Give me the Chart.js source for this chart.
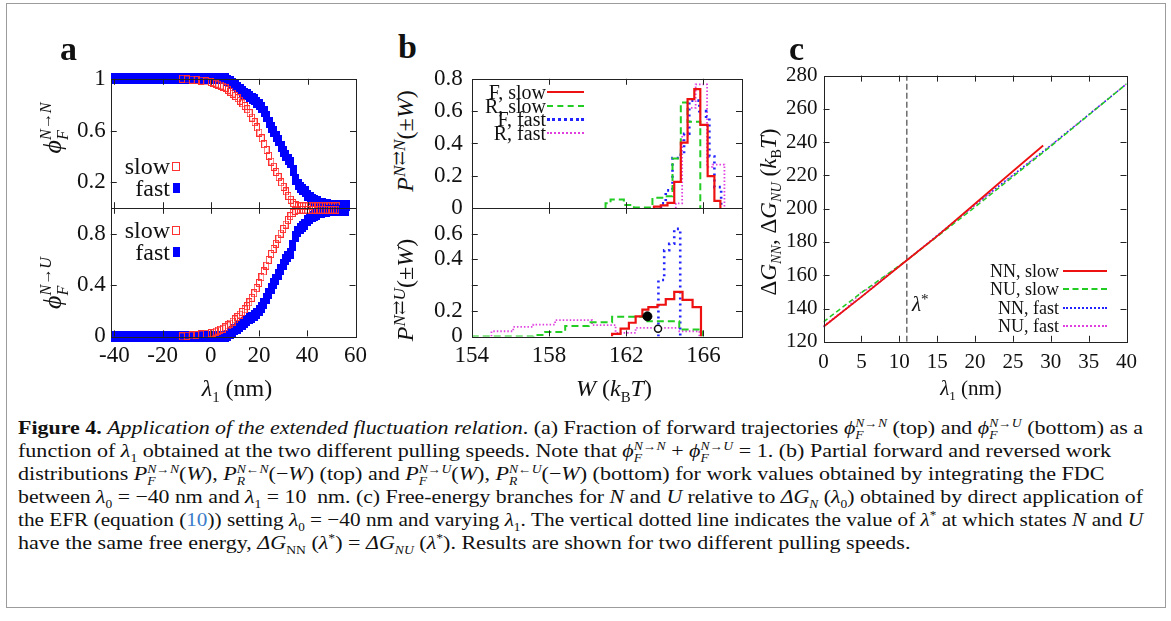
<!DOCTYPE html>
<html>
<head>
<meta charset="utf-8">
<script src="https://cdn.jsdelivr.net/npm/chart.js@4.4.1/dist/chart.umd.min.js"></script>
<style>
body { margin: 0; background: #fff; }
#fig { position: relative; width: 1171px; height: 621px; overflow: hidden; background: #fff;
  font-family: "Liberation Serif", "DejaVu Serif", serif; color: #111; }
#frame { position: absolute; left: 6px; top: 3px; width: 1160px; height: 605px;
  border: 1.5px solid #9c9c9c; box-sizing: border-box; }
canvas { position: absolute; }
.t { position: absolute; white-space: nowrap; line-height: 1; }
.tc { transform: translate(-50%, -50%); }
.tr { transform: translate(-100%, -50%); }
.tl { transform: translate(0, -50%); }
.rot { transform: translate(-50%, -50%) rotate(-90deg); }
.t sub, .cl sub, .cl sup { font-size: 0.62em; line-height: 0; }
.t sup { font-size: 0.72em; line-height: 0; vertical-align: 0.45em; }
.ss { display: inline-block; vertical-align: -0.45em; line-height: 1.05; font-size: 0.62em; text-align: left; }
.ss > span { display: block; }
.letter { font-weight: bold; font-size: 34px; }
.cl { position: absolute; left: 18px; white-space: nowrap; font-size: 19px; line-height: 20px; transform-origin: 0 50%; }
.key { position: absolute; height: 0; }
</style>
</head>
<body>
<div id="fig">
  <div id="frame"></div>

  <canvas id="aTop"></canvas>
  <canvas id="aBot"></canvas>
  <canvas id="bTop"></canvas>
  <canvas id="bBot"></canvas>
  <canvas id="cMain"></canvas>

  <div class="t letter" style="left:60px;top:32px;">a</div>
  <div class="t letter" style="left:398px;top:30px;">b</div>
  <div class="t letter" style="left:789px;top:32px;">c</div>

  <!-- panel a labels -->
  <div class="t rot" style="left:55px;top:128px;font-size:26px;"><i>ϕ</i><span class="ss"><span><i>N</i>→<i>N</i></span><span><i>F</i></span></span></div>
  <div class="t rot" style="left:55px;top:283px;font-size:26px;"><i>ϕ</i><span class="ss"><span><i>N</i>→<i>U</i></span><span><i>F</i></span></span></div>
  <div class="t tc" style="left:237px;top:388px;font-size:24px;"><i>λ</i><sub>1</sub> (nm)</div>
  <div class="t tr" style="left:170px;top:166px;font-size:24px;">slow</div>
  <div class="t tr" style="left:170px;top:188px;font-size:24px;">fast</div>
  <div class="t tr" style="left:170px;top:230px;font-size:24px;">slow</div>
  <div class="t tr" style="left:170px;top:252px;font-size:24px;">fast</div>
  <div class="key" style="left:172px;top:162px;width:6px;height:7px;border:1px solid #ff3030;"></div>
  <div class="key" style="left:173px;top:183px;width:7px;height:10px;background:#0000ff;"></div>
  <div class="key" style="left:172px;top:226px;width:6px;height:7px;border:1px solid #ff3030;"></div>
  <div class="key" style="left:173px;top:247px;width:7px;height:10px;background:#0000ff;"></div>

  <!-- panel b labels -->
  <div class="t rot" style="left:405px;top:141px;font-size:24px;"><i>P</i><sup><i>N</i>⇄<i>N</i></sup>(±<i>W</i>)</div>
  <div class="t rot" style="left:405px;top:290px;font-size:24px;"><i>P</i><sup><i>N</i>⇄<i>U</i></sup>(±<i>W</i>)</div>
  <div class="t tc" style="left:614px;top:388px;font-size:24px;"><i>W</i> (<i>k</i><sub>B</sub><i>T</i>)</div>
  <div class="t tr" style="left:546px;top:92px;font-size:20px;">F, slow</div>
  <div class="t tr" style="left:546px;top:106px;font-size:20px;">R, slow</div>
  <div class="t tr" style="left:546px;top:119px;font-size:20px;">F, fast</div>
  <div class="t tr" style="left:546px;top:133px;font-size:20px;">R, fast</div>
  <div class="key" style="left:547px;top:91px;width:37px;border-top:2px solid #ee1111;"></div>
  <div class="key" style="left:547px;top:105px;width:37px;border-top:2px dashed #22cc22;"></div>
  <div class="key" style="left:547px;top:118px;width:37px;border-top:3px dotted #2222ff;"></div>
  <div class="key" style="left:547px;top:132px;width:37px;border-top:2px dotted #e040e0;"></div>

  <!-- panel c labels -->
  <div class="t rot" style="left:768px;top:212px;font-size:23px;">Δ<i>G</i><sub><i>NN</i></sub>, Δ<i>G</i><sub><i>NU</i></sub> (<i>k</i><sub>B</sub><i>T</i>)</div>
  <div class="t tc" style="left:971px;top:388px;font-size:21px;"><i>λ</i><sub>1</sub> (nm)</div>
  <div class="t tl" style="left:912px;top:304px;font-size:21px;"><i>λ</i><sup>*</sup></div>
  <div class="t tr" style="left:1059px;top:271px;font-size:18px;">NN, slow</div>
  <div class="t tr" style="left:1059px;top:289px;font-size:18px;">NU, slow</div>
  <div class="t tr" style="left:1059px;top:308px;font-size:18px;">NN, fast</div>
  <div class="t tr" style="left:1059px;top:326px;font-size:18px;">NU, fast</div>
  <div class="key" style="left:1063px;top:270px;width:44px;border-top:2px solid #ee1111;"></div>
  <div class="key" style="left:1063px;top:288px;width:44px;border-top:2px dashed #22cc22;"></div>
  <div class="key" style="left:1063px;top:307px;width:44px;border-top:2px dotted #2222ff;"></div>
  <div class="key" style="left:1063px;top:325px;width:44px;border-top:2px dotted #e040e0;"></div>

  <!-- caption -->
  <div class="cl" id="cap1" style="top:418px;"><b>Figure 4.</b> <i>Application of the extended fluctuation relation</i>. (a) Fraction of forward trajectories <i>ϕ</i><span class="ss"><span><i>N</i>→<i>N</i></span><span><i>F</i></span></span> (top) and <i>ϕ</i><span class="ss"><span><i>N</i>→<i>U</i></span><span><i>F</i></span></span> (bottom) as a</div>
  <div class="cl" style="top:441px;">function of <i>λ</i><sub>1</sub> obtained at the two different pulling speeds. Note that <i>ϕ</i><span class="ss"><span><i>N</i>→<i>N</i></span><span><i>F</i></span></span> + <i>ϕ</i><span class="ss"><span><i>N</i>→<i>U</i></span><span><i>F</i></span></span> = 1. (b) Partial forward and reversed work</div>
  <div class="cl" style="top:464px;">distributions <i>P</i><span class="ss"><span><i>N</i>→<i>N</i></span><span><i>F</i></span></span>(<i>W</i>), <i>P</i><span class="ss"><span><i>N</i>←<i>N</i></span><span><i>R</i></span></span>(−<i>W</i>) (top) and <i>P</i><span class="ss"><span><i>N</i>→<i>U</i></span><span><i>F</i></span></span>(<i>W</i>), <i>P</i><span class="ss"><span><i>N</i>←<i>U</i></span><span><i>R</i></span></span>(−<i>W</i>) (bottom) for work values obtained by integrating the FDC</div>
  <div class="cl" style="top:487px;">between <i>λ</i><sub>0</sub> = −40 nm and <i>λ</i><sub>1</sub> = 10&nbsp; nm. (c) Free-energy branches for <i>N</i> and <i>U</i> relative to <i>ΔG<sub>N</sub></i> (<i>λ</i><sub>0</sub>) obtained by direct application of</div>
  <div class="cl" style="top:510px;">the EFR (equation (<span style="color:#3d7cc9">10</span>)) setting <i>λ</i><sub>0</sub> = −40 nm and varying <i>λ</i><sub>1</sub>. The vertical dotted line indicates the value of <i>λ</i><sup>*</sup> at which states <i>N</i> and <i>U</i></div>
  <div class="cl" style="top:533px;">have the same free energy, <i>ΔG</i><sub>NN</sub> (<i>λ</i><sup>*</sup>) = <i>ΔG<sub>NU</sub></i> (<i>λ</i><sup>*</sup>). Results are shown for two different pulling speeds.</div>
</div>

<script>
// ---------- panel a: fraction of forward trajectories ----------
const lamFast = [-40, -38, -36, -34, -32, -30, -28, -26, -24, -22, -20, -18, -16, -14, -12, -10, -8, -6, -4, -2, 0, 2, 4, 6,
  7, 8, 9, 10, 11, 12, 13, 14, 15, 16, 17, 18, 19, 20, 21, 22, 23, 24, 25, 26, 27, 28, 29, 30, 31,
  32, 33, 34, 35, 36, 37, 38, 39, 40, 41, 42, 43, 44, 45, 46, 47, 48, 49, 50, 51, 52, 53, 54, 55, 56];
const phiNNfast = [1, 1, 1, 1, 1, 1, 1, 1, 1, 1, 1, 1, 1, 1, 1, 1, 1, 1, 1, 1, 1, 1, 1, 1,
  0.99, 0.98, 0.965, 0.95, 0.935, 0.92, 0.905, 0.89, 0.875, 0.862, 0.85, 0.837, 0.82, 0.8, 0.775, 0.745, 0.705, 0.665, 0.625, 0.59, 0.555, 0.52, 0.48, 0.44, 0.405,
  0.38, 0.355, 0.29, 0.225, 0.185, 0.16, 0.145, 0.13, 0.1, 0.08, 0.07, 0.06, 0.05, 0.04, 0.035, 0.03, 0.025, 0.02, 0.02, 0.02, 0.02, 0.02, 0.02, 0.02, 0.02];
const phiNUfast = [0, 0, 0, 0, 0, 0, 0, 0, 0, 0, 0, 0, 0, 0, 0, 0, 0, 0, 0, 0, 0, 0, 0, 0,
  0.01, 0.02, 0.035, 0.05, 0.065, 0.08, 0.095, 0.11, 0.125, 0.138, 0.15, 0.163, 0.18, 0.2, 0.225, 0.255, 0.295, 0.335, 0.375, 0.41, 0.445, 0.48, 0.52, 0.56, 0.595,
  0.62, 0.645, 0.71, 0.775, 0.815, 0.84, 0.855, 0.87, 0.9, 0.92, 0.93, 0.94, 0.95, 0.96, 0.965, 0.97, 0.975, 0.98, 0.98, 0.98, 0.98, 0.98, 0.98, 0.98, 0.98];

const lamSlow = [-12, -10, -8, -6, -4, -2, 0, 1, 2, 3, 4, 5, 6, 7, 8, 9, 10, 11, 12, 13, 14, 15, 16, 17, 18, 19, 20,
  21, 22, 23, 24, 25, 26, 27, 28, 29, 30, 31, 32, 33, 34, 35, 36, 37, 38, 39, 40, 41, 42, 43, 44, 45, 46, 47, 48, 49, 50, 51, 52];
const phiNNslow = [1, 0.995, 0.993, 0.99, 0.985, 0.98, 0.975, 0.97, 0.962, 0.955, 0.948, 0.94, 0.93, 0.915, 0.9, 0.885, 0.868, 0.85, 0.83, 0.81, 0.79, 0.765, 0.735, 0.7, 0.665, 0.625, 0.585,
  0.54, 0.495, 0.45, 0.405, 0.36, 0.32, 0.28, 0.24, 0.2, 0.165, 0.13, 0.095, 0.065, 0.04, 0.025, 0.015, 0.015, 0.015, 0.015, 0.015, 0.015, 0.015, 0.015, 0.015, 0.015, 0.015, 0.015, 0.015, 0.015, 0.015, 0.015, 0.015];
const phiNUslow = [0, 0.005, 0.007, 0.01, 0.015, 0.02, 0.025, 0.03, 0.038, 0.045, 0.052, 0.06, 0.07, 0.085, 0.1, 0.115, 0.132, 0.15, 0.17, 0.19, 0.21, 0.235, 0.265, 0.3, 0.335, 0.375, 0.415,
  0.46, 0.505, 0.55, 0.595, 0.64, 0.68, 0.72, 0.76, 0.8, 0.835, 0.87, 0.905, 0.935, 0.96, 0.975, 0.985, 0.985, 0.985, 0.985, 0.985, 0.985, 0.985, 0.985, 0.985, 0.985, 0.985, 0.985, 0.985, 0.985, 0.985, 0.985, 0.985];

const aXTicks = [-40, -20, 0, 20, 40, 60];
const aXLabels = ['-40', '-20', '0', '20', '40', '60'];
const aTopYTicks = [0.2, 0.6, 1];
const aTopYLabels = ['0.2', '0.6', '1'];
const aBotYTicks = [0, 0.4, 0.8];
const aBotYLabels = ['0', '0.4', '0.8'];

// ---------- panel b: partial work distributions (bin edges / heights) ----------
const wFslowTop = [163.44, 163.79, 164.14, 164.49, 164.83, 165.18, 165.53, 165.84, 166.22, 166.57, 166.88];
const pFslowTop = [0.01, 0.018, 0.033, 0.163, 0.405, 0.674, 0.736, 0.515, 0.198, 0.045, 0];
const wRslowTop = [160.93, 161.19, 161.88, 162.4, 163.36, 163.97, 164.4, 164.83, 165.18, 165.84];
const pRslowTop = [0.03, 0.054, 0.02, 0.005, 0.064, 0.074, 0.308, 0.653, 0.535, 0];
const wFfastTop = [163.8, 164.05, 164.4, 164.75, 165.0, 165.27, 165.53, 165.79, 166.14, 166.31, 166.57, 166.92];
const pFfastTop = [0.03, 0.11, 0.31, 0.33, 0.46, 0.665, 0.665, 0.6, 0.566, 0.32, 0.13, 0];
const wRfastTop = [164.57, 164.9, 165.2, 165.6, 166.19, 166.48, 167.09];
const pRfastTop = [0.03, 0.45, 0.62, 0.765, 0.256, 0.27, 0];

const wFslowBot = [161.27, 161.71, 162.14, 162.49, 162.84, 163.15, 163.62, 164.05, 164.49, 164.92, 165.44, 165.875];
const pFslowBot = [0.01, 0.03, 0.053, 0.078, 0.104, 0.114, 0.123, 0.145, 0.173, 0.142, 0.114, 0];
const wRslowBot = [154.0, 157.19, 157.8, 158.84, 160.06, 161.27, 163.1, 164.75, 165.96];
const pRslowBot = [0, 0.005, 0.017, 0.04, 0.055, 0.076, 0.059, 0.027, 0];
const wFfastBot = [163.67, 163.97, 164.23, 164.49, 164.8];
const pFfastBot = [0.219, 0.335, 0.36, 0.418, 0];
const wRfastBot = [155.02, 156.15, 157.19, 158.32, 160.23, 161.45, 162.49, 164.75, 165.79];
const pRfastBot = [0.02, 0.037, 0.046, 0.063, 0.044, 0.014, 0.033, 0.02, 0];
const crossFilled = [{ x: 163.1, y: 0.078 }];
const crossOpen = [{ x: 163.65, y: 0.03 }];

const bXTicks = [154, 158, 162, 166];
const bXLabels = ['154', '158', '162', '166'];
const bTopYTicks = [0, 0.2, 0.4, 0.6, 0.8];
const bTopYLabels = ['0', '0.2', '0.4', '0.6', '0.8'];
const bBotYTicks = [0, 0.1, 0.2, 0.3, 0.4];
const bBotYLabels = ['0', '0.2', '', '0.4', '0.6'];

// ---------- panel c: free-energy branches ----------
const lamNNslow = [0, 5, 11, 15, 20, 25, 29];
const gNNslow = [129, 147, 169, 183.5, 203, 222.5, 238];
const lamNUslow = [0, 5, 11, 20, 30, 40];
const gNUslow = [132, 149.5, 169, 201, 237.5, 275];
const lamNNfast = [0, 5, 11, 20, 30, 40];
const gNNfast = [129, 147, 169, 202.5, 238, 275];
const lamNUfast = [0, 3, 4, 5, 6, 8, 11, 20, 30, 40];
const gNUfast = [129.5, 140, 145, 150, 152, 159, 169, 202, 238, 275];
const lambdaStar = 11;

const cXTicks = [0, 5, 10, 15, 20, 25, 30, 35, 40];
const cXLabels = ['0', '5', '10', '15', '20', '25', '30', '35', '40'];
const cYTicks = [120, 140, 160, 180, 200, 220, 240, 260, 280];
const cYLabels = ['120', '140', '160', '180', '200', '220', '240', '260', '280'];

const RED = '#ee1111', GREEN = '#22cc22', BLUE = '#2222ff', MAGENTA = '#e040e0';
const SERIF = '"Liberation Serif", "DejaVu Serif", serif';
Chart.defaults.font.family = SERIF;
Chart.defaults.color = '#111';

const xy = (xs, ys) => xs.map((x, i) => ({ x, y: ys[i] }));
const steps = (edges, vals) => [{ x: edges[0], y: 0 }].concat(xy(edges, vals));

function marker(w, h, filled, color) {
  const c = document.createElement('canvas');
  c.width = w; c.height = h;
  const g = c.getContext('2d');
  if (filled) { g.fillStyle = color; g.fillRect(0, 0, w, h); }
  else { g.strokeStyle = color; g.lineWidth = 1; g.strokeRect(0.5, 0.5, w - 1, h - 1); }
  return c;
}
const blueSq = marker(7, 11, true, '#0000ff');
const redSq = marker(6, 8, false, '#ff3030');

// frame + inward ticks on all four sides, like the gnuplot original
const boxTicks = {
  id: 'boxTicks',
  afterDraw(chart) {
    const { ctx, chartArea: a, scales } = chart;
    const L = 6;
    ctx.save();
    ctx.strokeStyle = '#222';
    ctx.lineWidth = 1;
    ctx.beginPath();
    scales.x.ticks.forEach(t => {
      const p = Math.round(scales.x.getPixelForValue(t.value)) + 0.5;
      if (p < a.left + 2 || p > a.right - 2) return;
      ctx.moveTo(p, a.top); ctx.lineTo(p, a.top + L);
      ctx.moveTo(p, a.bottom); ctx.lineTo(p, a.bottom - L);
    });
    scales.y.ticks.forEach(t => {
      const p = Math.round(scales.y.getPixelForValue(t.value)) + 0.5;
      if (p < a.top + 2 || p > a.bottom - 2) return;
      ctx.moveTo(a.left, p); ctx.lineTo(a.left + L, p);
      ctx.moveTo(a.right, p); ctx.lineTo(a.right - L, p);
    });
    ctx.stroke();
    ctx.strokeRect(Math.round(a.left) + 0.5, Math.round(a.top) + 0.5,
      Math.round(a.right - a.left), Math.round(a.bottom - a.top));
    ctx.restore();
  }
};

function axis(min, max, ticks, labels, show, size, pad) {
  return {
    type: 'linear', min, max,
    grid: { display: false, drawTicks: false },
    border: { display: false },
    afterBuildTicks: s => { s.ticks = ticks.map(v => ({ value: v })); },
    ticks: {
      display: show, padding: pad, autoSkip: false, maxRotation: 0,
      font: { size, family: SERIF }, color: '#111',
      callback: v => labels[ticks.indexOf(v)]
    }
  };
}

function options(x, y) {
  return {
    responsive: false, animation: false, maintainAspectRatio: false,
    layout: { padding: { top: 10, right: 16, bottom: 10, left: 4 } },
    plugins: { legend: { display: false }, tooltip: { enabled: false } },
    scales: { x, y }
  };
}

// build once to measure the margins, then rebuild so the plot box lands exactly where wanted
function place(id, box, makeConfig) {
  const cv = document.getElementById(id);
  cv.width = box.w + 140; cv.height = box.h + 90;
  let ch = new Chart(cv, makeConfig());
  const a = ch.chartArea;
  const ml = a.left, mt = a.top, mr = cv.width - a.right, mb = cv.height - a.bottom;
  ch.destroy();
  cv.width = Math.round(box.w + ml + mr);
  cv.height = Math.round(box.h + mt + mb);
  cv.style.width = cv.width + 'px';
  cv.style.height = cv.height + 'px';
  ch = new Chart(cv, makeConfig());
  cv.style.left = (box.x - ch.chartArea.left) + 'px';
  cv.style.top = (box.y - ch.chartArea.top) + 'px';
  return ch;
}

const pts = (data, style) => ({
  data, showLine: false, pointStyle: style, pointRadius: 5, clip: false
});

place('aTop', { x: 111, y: 79, w: 245, h: 129 }, () => ({
  type: 'scatter',
  data: { datasets: [pts(xy(lamSlow, phiNNslow), redSq), pts(xy(lamFast, phiNNfast), blueSq)] },
  options: options(axis(-41.5, 60, aXTicks, aXLabels, false, 23, 6), axis(0, 1, aTopYTicks, aTopYLabels, true, 23, 5)),
  plugins: [boxTicks]
}));
place('aBot', { x: 111, y: 208, w: 245, h: 129 }, () => ({
  type: 'scatter',
  data: { datasets: [pts(xy(lamSlow, phiNUslow), redSq), pts(xy(lamFast, phiNUfast), blueSq)] },
  options: options(axis(-41.5, 60, aXTicks, aXLabels, true, 23, 6), axis(0, 1, aBotYTicks, aBotYLabels, true, 23, 5)),
  plugins: [boxTicks]
}));

const hist = (data, color, width, dash) => ({
  data, showLine: true, stepped: true, pointRadius: 0, borderColor: color,
  borderWidth: width, borderDash: dash, fill: false
});

place('bTop', { x: 472, y: 79, w: 270, h: 129 }, () => ({
  type: 'scatter',
  data: { datasets: [
    hist(steps(wFslowTop, pFslowTop), RED, 2.2, []),
    hist(steps(wRslowTop, pRslowTop), GREEN, 2, [7, 4]),
    hist(steps(wFfastTop, pFfastTop), BLUE, 2.6, [2, 4]),
    hist(steps(wRfastTop, pRfastTop), MAGENTA, 1.8, [1.5, 2])
  ] },
  options: options(axis(154, 168, bXTicks, bXLabels, false, 23, 6), axis(0, 0.8, bTopYTicks, bTopYLabels, true, 23, 9)),
  plugins: [boxTicks]
}));
place('bBot', { x: 472, y: 208, w: 270, h: 129 }, () => ({
  type: 'scatter',
  data: { datasets: [
    { data: crossFilled, pointRadius: 4.5, backgroundColor: '#000', borderColor: '#000' },
    { data: crossOpen, pointRadius: 3.5, backgroundColor: '#fff', borderColor: '#111', borderWidth: 1.5 },
    hist(steps(wFslowBot, pFslowBot), RED, 2.2, []),
    hist(steps(wRslowBot, pRslowBot), GREEN, 2, [7, 4]),
    hist(steps(wFfastBot, pFfastBot), BLUE, 2.6, [2, 4]),
    hist(steps(wRfastBot, pRfastBot), MAGENTA, 1.8, [1.5, 2])
  ] },
  options: options(axis(154, 168, bXTicks, bXLabels, true, 23, 6), axis(0, 0.5, bBotYTicks, bBotYLabels, true, 23, 9)),
  plugins: [boxTicks]
}));

const branch = (data, color, width, dash) => ({
  data, showLine: true, pointRadius: 0, borderColor: color, borderWidth: width, borderDash: dash, fill: false
});
place('cMain', { x: 823, y: 76, w: 303, h: 266 }, () => ({
  type: 'scatter',
  data: { datasets: [
    branch(xy(lamNNslow, gNNslow), RED, 1.8, []),
    branch(xy(lamNUslow, gNUslow), GREEN, 1.5, [5, 3]),
    branch(xy(lamNNfast, gNNfast), BLUE, 1.5, [1.5, 2.5]),
    branch(xy(lamNUfast, gNUfast), MAGENTA, 1.5, [1.5, 2]),
    branch([{ x: lambdaStar, y: 120 }, { x: lambdaStar, y: 280 }], '#555', 1.3, [6, 3])
  ] },
  options: options(axis(0, 40, cXTicks, cXLabels, true, 21, 8), axis(120, 280, cYTicks, cYLabels, true, 21, 6)),
  plugins: [boxTicks]
}));

// caption: one horizontal squeeze set by the first line, tightened where a line would run past the text block
const capScale = 1130 / document.getElementById('cap1').getBoundingClientRect().width;
document.querySelectorAll('.cl').forEach(el => {
  const w = el.getBoundingClientRect().width;
  el.style.transform = 'scaleX(' + Math.min(capScale, 1125 / w) + ')';
});
</script>
</body>
</html>
